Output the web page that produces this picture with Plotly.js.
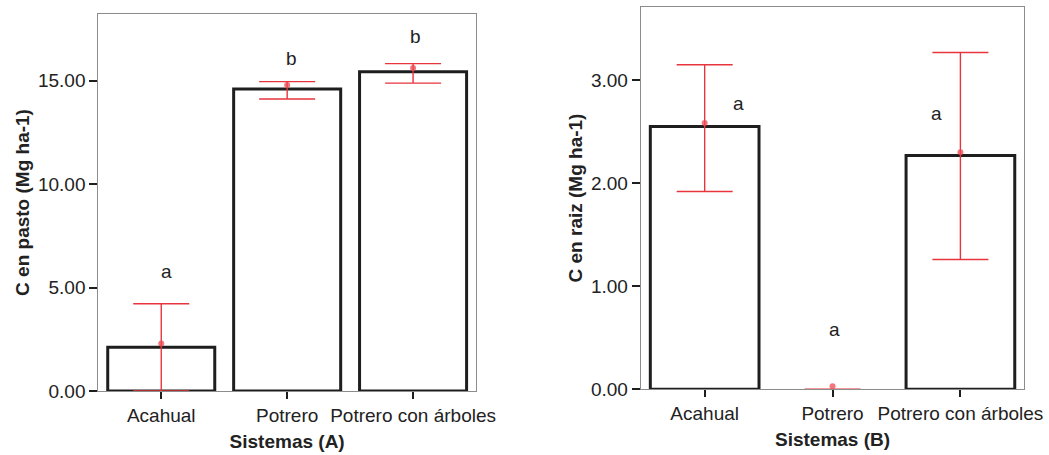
<!DOCTYPE html>
<html>
<head>
<meta charset="utf-8">
<script src="https://cdn.plot.ly/plotly-3.0.1.min.js"></script>
<style>
  html, body { margin: 0; padding: 0; background: #fff; }
  #chart { width: 1049px; height: 455px; }
</style>
</head>
<body>
<div id="chart"></div>
<script>
// Carbon stocks by land-use system (Mg ha-1)
const categories = ['Acahual', 'Potrero', 'Potrero con árboles'];

// Panel A: carbon in grass
const barA = [2.11, 14.60, 15.44];
const pointA = [2.29, 14.80, 15.62];
const highA = [4.22, 14.96, 15.83];
const lowA = [0.00, 14.12, 14.89];
const lettersA = ['a', 'b', 'b'];
const letterYA = [5.77, 16.09, 17.13];

// Panel B: carbon in roots
const barB = [2.55, 0.00, 2.27];
const pointB = [2.585, 0.03, 2.30];
const highB = [3.15, 0.00, 3.27];
const lowB = [1.92, 0.00, 1.26];
const lettersB = ['a', 'a', 'a'];
const letterYB = [2.77, 0.58, 2.68];

const yTicksA = [0, 5, 10, 15];
const yTicksB = [0, 1, 2, 3];

const FONT = 'Liberation Sans, Arial, sans-serif';
const TEXT = '#222222';
const RED = '#e8343c';

function panelTraces(bars, points, highs, lows, xa, ya) {
  return [
    {
      // empty bars (zero height) get no outline
      type: 'bar', x: categories, y: bars, xaxis: xa, yaxis: ya,
      marker: { color: '#ffffff', line: { color: '#1e1e1e', width: bars.map(v => v > 0 ? 3 : 0) } },
      hoverinfo: 'skip'
    },
    {
      // confidence interval, drawn from the lower bound upward
      type: 'scatter', mode: 'markers', x: categories, y: lows, xaxis: xa, yaxis: ya,
      marker: { size: 1, color: 'rgba(0,0,0,0)' },
      error_y: {
        type: 'data', symmetric: false,
        array: highs.map((h, i) => h - lows[i]),
        arrayminus: lows.map(() => 0),
        color: RED, thickness: 1.4, width: 28
      },
      cliponaxis: false, hoverinfo: 'skip'
    },
    {
      type: 'scatter', mode: 'markers', x: categories, y: points, xaxis: xa, yaxis: ya,
      marker: { size: 6, color: 'rgba(236,72,82,0.75)' },
      cliponaxis: false, hoverinfo: 'skip'
    }
  ];
}

const data = [
  ...panelTraces(barA, pointA, highA, lowA, 'x', 'y'),
  ...panelTraces(barB, pointB, highB, lowB, 'x2', 'y2')
];

const shiftA = [5, 4, 2];
const shiftB = [34, 2, -24];
const annotations = [];
categories.forEach((c, i) => {
  annotations.push({ xref: 'x', yref: 'y', x: c, y: letterYA[i], text: lettersA[i],
    showarrow: false, xshift: shiftA[i], font: { family: FONT, size: 19, color: TEXT } });
  annotations.push({ xref: 'x2', yref: 'y2', x: c, y: letterYB[i], text: lettersB[i],
    showarrow: false, xshift: shiftB[i], font: { family: FONT, size: 19, color: TEXT } });
});

const xCommon = {
  type: 'category', showline: true, mirror: true, linecolor: '#8c8c8c', linewidth: 1,
  ticks: 'outside', ticklen: 7, tickwidth: 2, tickcolor: '#1e1e1e',
  tickfont: { family: FONT, size: 19, color: TEXT },
  showgrid: false, zeroline: false, fixedrange: true
};
const yCommon = {
  showline: true, mirror: true, linecolor: '#8c8c8c', linewidth: 1,
  ticks: 'outside', ticklen: 8, tickwidth: 2, tickcolor: '#1e1e1e',
  tickfont: { family: FONT, size: 19, color: TEXT },
  showgrid: false, zeroline: false, fixedrange: true, tickformat: '.2f'
};

const layout = {
  width: 1049, height: 455,
  margin: { l: 0, r: 0, t: 0, b: 0 },
  paper_bgcolor: '#ffffff', plot_bgcolor: '#ffffff',
  showlegend: false, bargap: 0.15,
  font: { family: FONT, color: TEXT },
  xaxis: Object.assign({}, xCommon, {
    domain: [0.0937, 0.4538], anchor: 'y', range: [-0.5, 2.5],
    title: { text: '<b>Sistemas (A)</b>', font: { family: FONT, size: 19, color: TEXT }, standoff: 9 }
  }),
  yaxis: Object.assign({}, yCommon, {
    domain: [0.1407, 0.9692], anchor: 'x', range: [0, 18.23], tickvals: yTicksA,
    title: { text: '<b>C en pasto (Mg ha-1)</b>', font: { family: FONT, size: 19, color: TEXT }, standoff: 3 }
  }),
  xaxis2: Object.assign({}, xCommon, {
    domain: [0.6108, 0.9765], anchor: 'y2', range: [-0.5, 2.5],
    title: { text: '<b>Sistemas (B)</b>', font: { family: FONT, size: 19, color: TEXT }, standoff: 9 }
  }),
  yaxis2: Object.assign({}, yCommon, {
    domain: [0.1444, 0.9853], anchor: 'x2', range: [0, 3.714], tickvals: yTicksB,
    title: { text: '<b>C en raiz (Mg ha-1)</b>', font: { family: FONT, size: 19, color: TEXT }, standoff: 3 }
  }),
  annotations: annotations
};

Plotly.newPlot('chart', data, layout, { staticPlot: true, displayModeBar: false });
</script>
</body>
</html>
